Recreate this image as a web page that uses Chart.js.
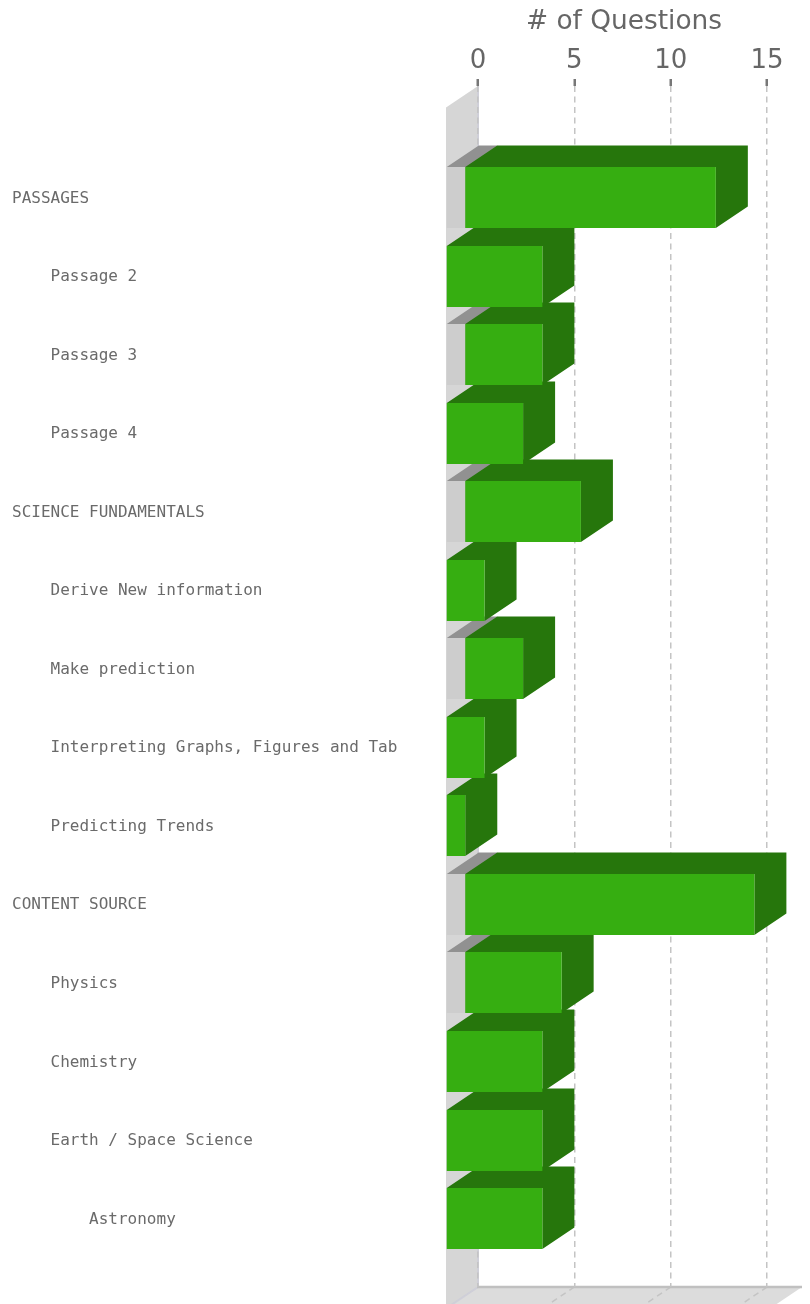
<!DOCTYPE html>
<html>
<head>
<meta charset="utf-8">
<style>html,body{margin:0;padding:0;background:#fff}canvas{display:block}</style>
<script src="https://cdn.jsdelivr.net/npm/chart.js@4/dist/chart.umd.min.js"></script>
</head>
<body>
<canvas id="c" width="810" height="1304"></canvas>
<script>
const categories = [
  "PASSAGES","    Passage 2","    Passage 3","    Passage 4",
  "SCIENCE FUNDAMENTALS","    Derive New information","    Make prediction",
  "    Interpreting Graphs, Figures and Tab","    Predicting Trends",
  "CONTENT SOURCE","    Physics","    Chemistry","    Earth / Space Science","        Astronomy"
];
const grayValues  = [1,0,1,0,1,0,1,0,0,1,1,0,0,0];
const greenValues = [13,5,4,4,6,2,3,2,1,15,5,5,5,5];
const xTicks = [0,5,10,15];

const depthX = -32, depthY = 21.5;
const faces = [
  {front:'#cdcdcd', side:'#919191'},
  {front:'#36ae11', side:'#26760c'}
];
function poly(ctx, pts, fill){
  ctx.beginPath();
  pts.forEach((p,i)=> i?ctx.lineTo(p[0],p[1]):ctx.moveTo(p[0],p[1]));
  ctx.closePath(); ctx.fillStyle=fill; ctx.fill();
}
const threeD = {
  id:'threeD',
  beforeDraw(chart){
    const {ctx, chartArea:a, scales:{x}} = chart;
    const x0 = x.getPixelForValue(0);
    ctx.save();
    poly(ctx,[[x0,a.top],[x0+depthX,a.top+depthY],[x0+depthX,a.bottom+depthY],[x0,a.bottom]],'#d6d6d6');
    poly(ctx,[[x0,a.bottom],[a.right,a.bottom],[a.right+depthX,a.bottom+depthY],[x0+depthX,a.bottom+depthY]],'#dcdcdc');
    ctx.setLineDash([6,4.5]); ctx.lineWidth=1.5; ctx.strokeStyle='#c4c4c4';
    xTicks.slice(1).forEach(t=>{
      const p=x.getPixelForValue(t);
      ctx.beginPath();ctx.moveTo(p,a.bottom);ctx.lineTo(p+depthX,a.bottom+depthY);ctx.stroke();
    });
    ctx.setLineDash([]);
    ctx.strokeStyle='#cfcfd8'; ctx.lineWidth=2;
    ctx.beginPath();ctx.moveTo(x0+depthX,a.bottom+depthY);ctx.lineTo(x0,a.bottom);ctx.lineTo(x0,a.top);ctx.stroke();
    ctx.strokeStyle='#c0c0c0'; ctx.lineWidth=2.5;
    ctx.beginPath();ctx.moveTo(x0-1,a.bottom);ctx.lineTo(a.right,a.bottom);ctx.stroke();
    ctx.restore();
  },
  beforeDatasetDraw(){ return false; },
  beforeDatasetsDraw(chart){
    const ctx = chart.ctx;
    for(let i=categories.length-1;i>=0;i--){
      chart.data.datasets.forEach((ds,d)=>{
        if(!ds.data[i].x) return;
        const el = chart.getDatasetMeta(d).data[i];
        const props = el.getProps(['x','y','base','height']);
        const rawTop = props.y-props.height/2+depthY;
        const snap = Math.round(rawTop)-rawTop;   // keep horizontal edges on whole pixels
        const l=props.base+depthX, r=props.x+depthX;
        const t=rawTop+snap, b=t+props.height;
        // top and right faces as one outline, so no seam shows between them
        poly(ctx,[[l,t],[l-depthX,t-depthY],[r-depthX,t-depthY],[r-depthX,b-depthY],[r,b],[r,t]],faces[d].side);
        ctx.save();
        ctx.translate(depthX,depthY+snap);
        el.draw(ctx);
        ctx.restore();
      });
    }
  }
};

const barStyle = {borderWidth:0, inflateAmount:0, categoryPercentage:0.7766, barPercentage:1};
new Chart(document.getElementById('c'),{
  type:'bar',
  plugins:[threeD],
  data:{
    datasets:[
      {label:'Other', data:grayValues.map((v,i)=>({x:v,y:i})), backgroundColor:faces[0].front, ...barStyle},
      {label:'# of Questions', data:greenValues.map((v,i)=>({x:v,y:i})), backgroundColor:faces[1].front, ...barStyle}
    ]
  },
  options:{
    indexAxis:'y',
    responsive:false,
    animation:false,
    layout:{padding:{left:12,right:8,top:0,bottom:17}},
    plugins:{legend:{display:false},tooltip:{enabled:false},title:{display:false}},
    scales:{
      x:{
        type:'linear',position:'top',stacked:true,min:0,max:16.81,
        border:{display:false,dash:[6,4.5]},
        afterTickToLabelConversion(s){ s.ticks = s.ticks.filter(t=>xTicks.includes(t.value)); },
        afterFit(s){
          s.height=86;
          if(!s._t){ s._t=1; const orig=s.drawTitle;
            s.drawTitle=function(){const L=this.left;this.left=L+depthX;orig.call(this);this.left=L;};
          }
        },
        grid:{color:'#c4c4c4',lineWidth:1.5,tickBorderDash:[],tickColor:'#777',tickWidth:2.5,tickLength:7,drawTicks:true},
        ticks:{stepSize:5,includeBounds:false,color:'#666',font:{family:'"DejaVu Sans"',size:26},padding:2,maxRotation:0,autoSkip:false},
        title:{display:true,text:'# of Questions',color:'#666',font:{family:'"DejaVu Sans"',size:26.4},padding:{top:6,bottom:0}}
      },
      y:{
        type:'linear',reverse:true,offset:false,stacked:true,min:-1.1458,max:14.144,
        border:{display:false},
        grid:{display:false,drawTicks:false,offset:false},
        afterBuildTicks(s){ s.ticks = categories.map((_,i)=>({value:i})); },
        afterFit(s){ s.width=466; },
        ticks:{autoSkip:false,crossAlign:'far',labelOffset:22.4,color:'#6a6a6a',
          font:{family:'"DejaVu Sans Mono"',size:16},
          callback:v=>categories[v]}
      }
    }
  }
});
</script>
</body>
</html>
